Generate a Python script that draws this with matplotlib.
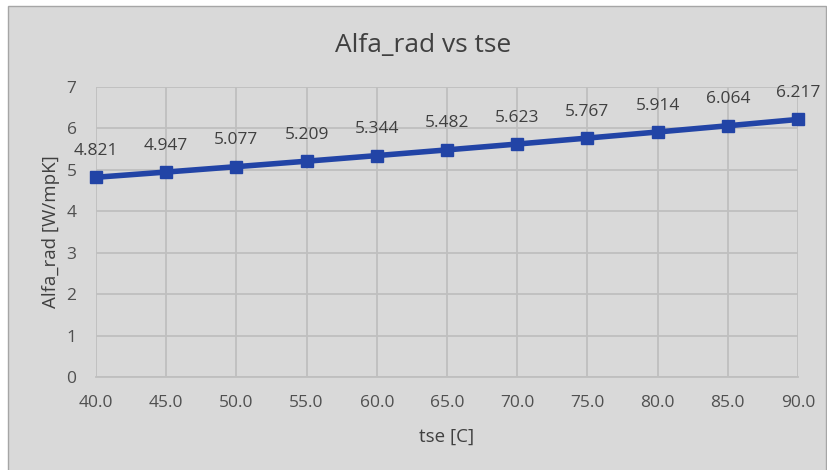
import matplotlib
matplotlib.use("Agg")
import matplotlib.pyplot as plt
from matplotlib.patches import Rectangle
from matplotlib.ticker import FormatStrFormatter

tse = [40.0, 45.0, 50.0, 55.0, 60.0, 65.0, 70.0, 75.0, 80.0, 85.0, 90.0]
alfa_rad = [4.821, 4.947, 5.077, 5.209, 5.344, 5.482, 5.623, 5.767, 5.914, 6.064, 6.217]

bg = "#d9d9d9"
txt = "#404040"
tick_txt = "#505050"
plt.rcParams["font.family"] = ["Open Sans", "DejaVu Sans"]

W, H = 828, 470
fig = plt.figure(figsize=(W / 100, H / 100), dpi=100)
fig.patch.set_facecolor("white")
# grey chart area with thin border, kept behind the axes
fig.patches.append(Rectangle((8 / W, -0.05), 818 / W, 1.05 - 6 / H,
                             transform=fig.transFigure, facecolor=bg,
                             edgecolor="#a6a6a6", linewidth=1, zorder=-10))

ax = fig.add_axes([96 / W, 93 / H, 702 / W, 290 / H])
ax.set_facecolor(bg)
ax.plot(tse, alfa_rad, color="#2244a6", linewidth=4, marker="s",
        markersize=8.5, zorder=3, clip_on=False)
for x, y in zip(tse, alfa_rad):
    ax.annotate(f"{y:.3f}", (x, y), xytext=(0, 19), textcoords="offset points",
                ha="center", va="center", fontsize=12.5, color=txt)

ax.set_xlim(40, 90)
ax.set_ylim(0, 7)
ax.set_xticks(tse)
ax.set_yticks(range(8))
ax.xaxis.set_major_formatter(FormatStrFormatter("%.1f"))
ax.grid(True, color="#bfbfbf", linewidth=1.3)
ax.set_axisbelow(True)
for s in ax.spines.values():
    s.set_visible(False)
ax.spines["bottom"].set_visible(True)
ax.spines["bottom"].set_color("#bfbfbf")
ax.spines["bottom"].set_linewidth(1.3)
ax.tick_params(axis="x", length=0, labelsize=12.5, colors=tick_txt, pad=13)
ax.tick_params(axis="y", length=0, labelsize=12.5, colors=tick_txt, pad=14)

ax.set_xlabel("tse [C]", fontsize=13.5, color=txt, va="center")
ax.xaxis.set_label_coords(0.5, (33 - 93) / 290)
ax.set_ylabel("Alfa_rad [W/mpK]", fontsize=13.5, color=txt, va="center")
ax.yaxis.set_label_coords((51 - 96) / 702, 0.5)

fig.text(423 / W, 1 - 45 / H, "Alfa_rad vs tse", fontsize=19, color=txt,
         ha="center", va="center")

fig.savefig("out.png", dpi=100, facecolor=fig.get_facecolor())
